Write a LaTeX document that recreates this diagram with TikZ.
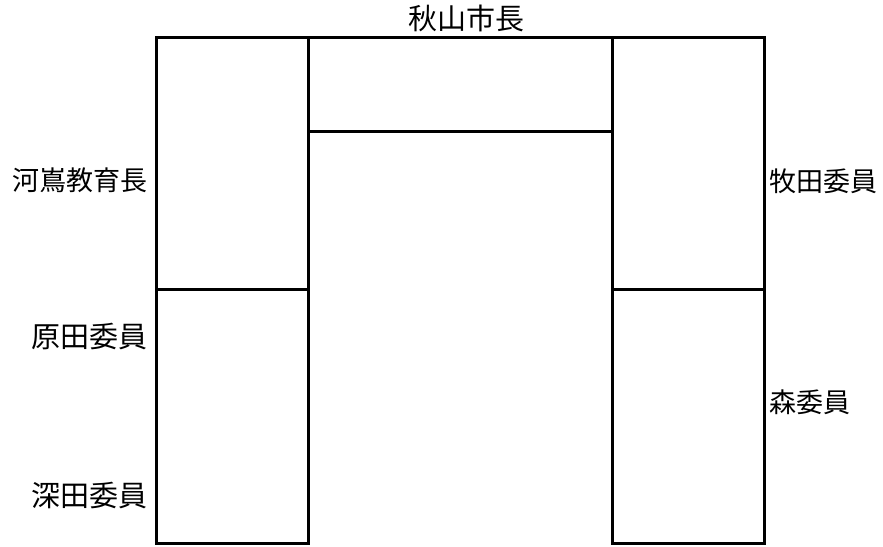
\documentclass[tikz,border=0pt]{standalone}
\usepackage{fontspec}
\setmainfont{Noto Sans CJK JP}

\tikzset{
  seatname/.style={inner sep=0pt,font=\fontsize{27pt}{27pt}\selectfont},
  bigseat/.style={inner sep=0pt,font=\fontsize{29pt}{29pt}\selectfont},
  desk/.style={draw=black,line width=3pt}
}

\begin{document}
\begin{tikzpicture}[x=1pt,y=-1pt]
      \useasboundingbox (0,0) rectangle (883,546);
      % desks
      \draw[desk] (156,37) rectangle (308,289) (156,289) rectangle (308,543);
      \draw[desk] (612,37) rectangle (764,289) (612,289) rectangle (764,543);
      \draw[desk] (308,37) rectangle (612,131);
      % names
      \draw
        (466,18) node[bigseat] (mayor){秋山市長}
        (148,180) node[seatname,anchor=east] (kawa){河嶌教育長}
        (148,337) node[bigseat,anchor=east] (hara){原田委員}
        (148,496) node[bigseat,anchor=east] (fuka){深田委員}
        (769,181) node[seatname,anchor=west] (maki){牧田委員}
        (769,402) node[seatname,anchor=west] (mori){森委員};
    \end{tikzpicture}
\end{document}
